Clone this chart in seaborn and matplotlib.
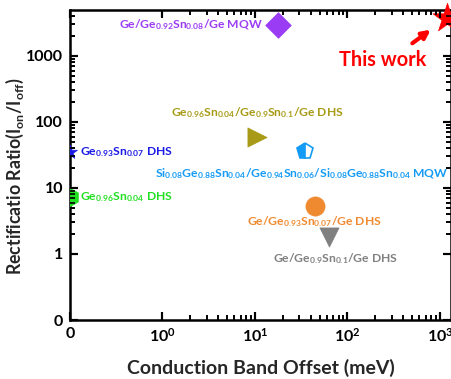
import numpy as np
import pandas as pd
import matplotlib
matplotlib.use("Agg")
import matplotlib.pyplot as plt
import seaborn as sns
from matplotlib.ticker import FixedLocator, NullFormatter

# Points (conduction band offset in meV, rectification ratio)
names = ["This work", "MQW 0.92/0.08", "DHS 0.96/0.9", "DHS 0.93 single",
         "DHS 0.96 single", "Ge/GeSn0.07/Ge", "Ge/GeSn0.1/Ge"]
cbo = [1200, 17.8, 10.5, 0, 0, 44, 63]
ratio = [3800, 2950, 59, 35, 7.3, 5.4, 1.8]
colors = ["#FF0000", "#9B3CF5", "#A89A16", "#1A1AE6", "#22E022", "#F08A30", "#808080"]
markers = ["*", "D", ">", "*", "h", "o", "v"]
sizes = [480, 170, 190, 110, 170, 190, 190]

# the half-filled pentagon (SiGeSn MQW)
penta_x, penta_y = 35, 36
penta_color = "#149BF5"

labels = [
    r"Ge/Ge$_{0.92}$Sn$_{0.08}$/Ge MQW",
    r"Ge$_{0.96}$Sn$_{0.04}$/Ge$_{0.9}$Sn$_{0.1}$/Ge DHS",
    r"Ge$_{0.93}$Sn$_{0.07}$ DHS",
    r"Si$_{0.08}$Ge$_{0.88}$Sn$_{0.04}$/Ge$_{0.94}$Sn$_{0.06}$/Si$_{0.08}$Ge$_{0.88}$Sn$_{0.04}$ MQW",
    r"Ge$_{0.96}$Sn$_{0.04}$ DHS",
    r"Ge/Ge$_{0.93}$Sn$_{0.07}$/Ge DHS",
    r"Ge/Ge$_{0.9}$Sn$_{0.1}$/Ge DHS",
]
label_x = [12.2, 10.5, 0.11, 0.92, 0.11, 43.5, 75]
label_y = [2950, 137, 35, 16.3, 7.3, 3.06, 0.93]
label_ha = ["right", "center", "left", "left", "left", "center", "center"]
label_colors = ["#9B3CF5", "#A89A16", "#1A1AE6", "#149BF5", "#22E022", "#F08A30", "#808080"]

xmaj = [0, 1, 10, 100, 1000]
ymaj = [0, 1, 10, 100, 1000]
xmaj_labels = ["0", r"$10^0$", r"$10^1$", r"$10^2$", r"$10^3$"]
ymaj_labels = ["0", "1", "10", "100", "1000"]

sns.set_style("ticks")
plt.rcParams["font.family"] = ["Lato", "DejaVu Sans"]
plt.rcParams["font.weight"] = "bold"
plt.rcParams["mathtext.fontset"] = "custom"
plt.rcParams["mathtext.rm"] = "Lato:bold"
plt.rcParams["mathtext.bf"] = "Lato:bold"
plt.rcParams["mathtext.default"] = "bf"
plt.rcParams["axes.linewidth"] = 1.8
plt.rcParams["axes.edgecolor"] = "black"

df = pd.DataFrame({"name": names, "cbo": cbo, "ratio": ratio})

fig = plt.figure(figsize=(4.52, 3.79), dpi=100)
ax = fig.add_axes([70 / 452, 1 - 320 / 379, 381 / 452, 310 / 379])

ax.set_xscale("symlog", linthresh=1, linscale=0.9)
ax.set_yscale("symlog", linthresh=1, linscale=0.9)

# the two points sitting on x = 0 are half hidden by the axis
for i in range(len(names)):
    sub = df.iloc[[i]]
    sns.scatterplot(data=sub, x="cbo", y="ratio", marker=markers[i], s=sizes[i],
                    color=colors[i], edgecolor=colors[i], linewidth=0.5,
                    ax=ax, legend=False, zorder=3, clip_on=(i != 0))

ax.plot([penta_x], [penta_y], marker="p", markersize=12, fillstyle="left",
        color=penta_color, markerfacecoloralt="white", markeredgecolor=penta_color,
        markeredgewidth=1.2, linestyle="none", zorder=3)

for t, x, y, ha, c in zip(labels, label_x, label_y, label_ha, label_colors):
    ax.text(x, y, t, ha=ha, va="center", color=c, fontsize=8.7, fontweight="bold")

ax.text(240, 870, "This work", color="#FF0000", fontsize=14.3, fontweight="bold",
        ha="center", va="center")
ax.annotate("", xy=(840, 2650), xytext=(475, 1470),
            arrowprops=dict(arrowstyle="-|>", color="#FF0000", lw=3, mutation_scale=12))

ax.set_xlim(0, 1315)
ax.set_ylim(0, 4970)

minors = [m * 10.0 ** k for k in range(0, 4) for m in range(2, 10)]
xmin_t = [v for v in minors if v < 1315]
ymin_t = [v for v in minors if v < 4970]
ax.xaxis.set_major_locator(FixedLocator(xmaj))
ax.set_xticklabels(xmaj_labels)
ax.yaxis.set_major_locator(FixedLocator(ymaj))
ax.set_yticklabels(ymaj_labels)
ax.xaxis.set_minor_locator(FixedLocator(xmin_t))
ax.yaxis.set_minor_locator(FixedLocator(ymin_t))
ax.xaxis.set_minor_formatter(NullFormatter())
ax.yaxis.set_minor_formatter(NullFormatter())

ax.tick_params(which="both", direction="in", top=True, right=True, bottom=True, left=True,
               labelsize=11.5, width=1.5, pad=5, color="black", labelcolor="black")
ax.tick_params(which="major", length=6)
ax.tick_params(which="minor", length=3.5, width=1.2)

# inward tick marks drawn as markers on all four sides, so they always show
xt = ax.get_xaxis_transform()
yt = ax.get_yaxis_transform()
for vals, ms, mw in [(xmaj, 6, 1.5), (xmin_t, 3.5, 1.2)]:
    n = len(vals)
    ax.plot(vals, [0] * n, transform=xt, marker=2, ms=ms, mew=mw, color="black",
            linestyle="none", clip_on=False, zorder=4)
    ax.plot(vals, [1] * n, transform=xt, marker=3, ms=ms, mew=mw, color="black",
            linestyle="none", clip_on=False, zorder=4)
for vals, ms, mw in [(ymaj, 6, 1.5), (ymin_t, 3.5, 1.2)]:
    n = len(vals)
    ax.plot([0] * n, vals, transform=yt, marker=1, ms=ms, mew=mw, color="black",
            linestyle="none", clip_on=False, zorder=4)
    ax.plot([1] * n, vals, transform=yt, marker=0, ms=ms, mew=mw, color="black",
            linestyle="none", clip_on=False, zorder=4)

ax.set_xlabel("Conduction Band Offset (meV)", fontsize=14, fontweight="bold", labelpad=10)
ax.set_ylabel(r"Rectificatio Ratio(I$_{on}$/I$_{off}$)", fontsize=12.8, fontweight="bold")
ax.yaxis.set_label_coords(-0.115, 0.465)

fig.savefig("out.png", dpi=100)
